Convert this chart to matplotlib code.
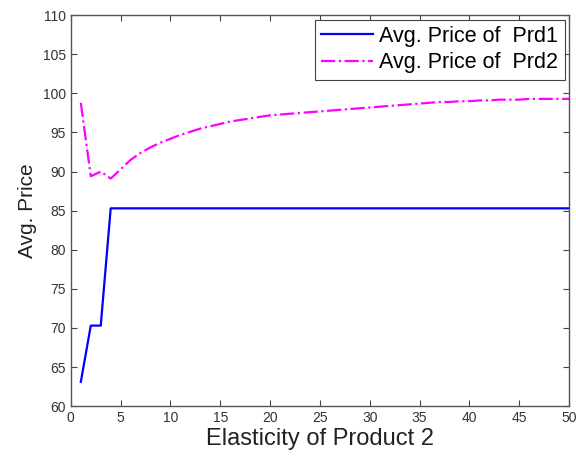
import numpy as np
import matplotlib
matplotlib.use('Agg')
import matplotlib.pyplot as plt

elasticity = list(range(1, 51))

price_prd1 = [63.1, 70.3, 70.3, 85.3] + [85.3] * 46

price_prd2 = [98.8, 89.4, 90.0, 89.1, 90.3, 91.5, 92.4, 93.1, 93.7, 94.2,
              94.7, 95.1, 95.5, 95.8, 96.1, 96.4, 96.6, 96.8, 97.0, 97.2,
              97.3, 97.4, 97.5, 97.6, 97.7, 97.8, 97.9, 98.0, 98.1, 98.2,
              98.3, 98.4, 98.5, 98.6, 98.7, 98.8, 98.9, 98.9, 99.0, 99.0,
              99.1, 99.1, 99.2, 99.2, 99.2, 99.3, 99.3, 99.3, 99.3, 99.3]

plt.rcParams['font.family'] = ['Liberation Sans', 'DejaVu Sans']

fig = plt.figure(figsize=(5.76, 4.61), dpi=100)
ax = fig.add_axes([0.123, 0.119, 0.865, 0.848])

ax.plot(elasticity, price_prd1, color='#0000ff', lw=1.6, label='Avg. Price of  Prd1')
ax.plot(elasticity, price_prd2, color='#ff00ff', lw=1.6, ls='-.', label='Avg. Price of  Prd2')

ax.set_xlim(0, 50)
ax.set_ylim(60, 110)
ax.set_xticks(np.arange(0, 51, 5))
ax.set_yticks(np.arange(60, 111, 5))
ax.tick_params(direction='in', top=True, right=True, length=4, width=0.8,
               colors='#444444', labelsize=10, labelcolor='#333333')
for s in ax.spines.values():
    s.set_color('#555555')
    s.set_linewidth(1.0)

ax.set_xlabel('Elasticity of Product 2', fontsize=17, color='#222222', labelpad=2)
ax.set_ylabel('Avg. Price', fontsize=15, color='#222222', labelpad=4)

leg = ax.legend(loc='upper right', fontsize=15.5, fancybox=False, framealpha=1,
                edgecolor='#444444', borderaxespad=0.2, handlelength=2.4,
                borderpad=0.3, labelspacing=0.25, handletextpad=0.3)
leg.get_frame().set_linewidth(0.8)

fig.savefig('out.png', dpi=100)
